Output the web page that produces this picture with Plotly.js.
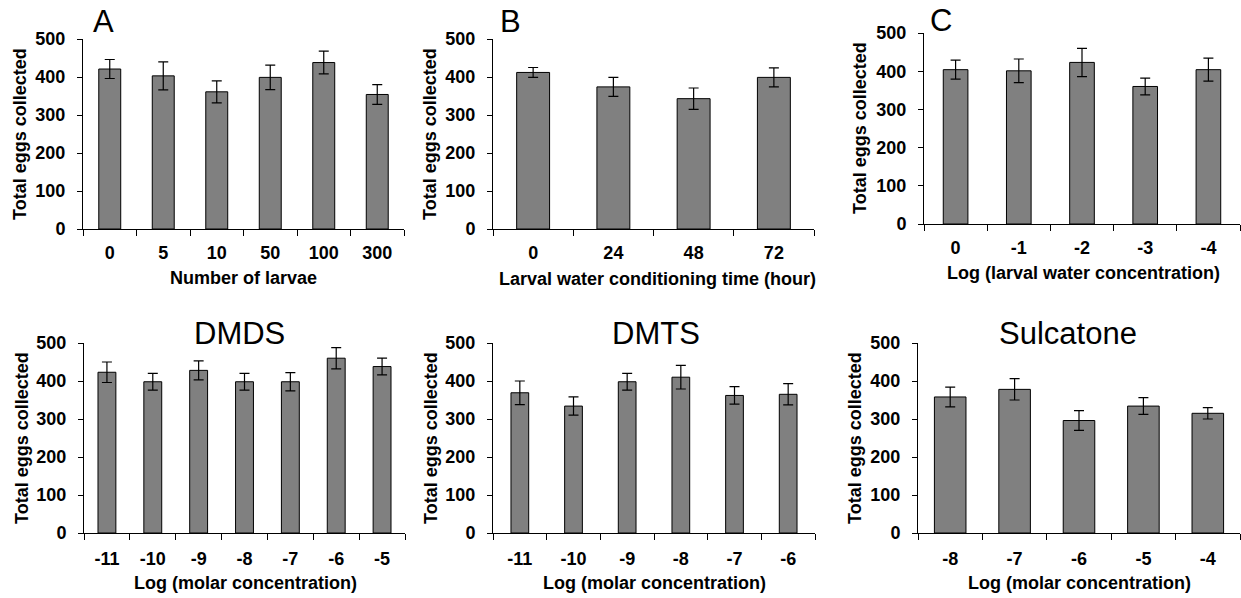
<!DOCTYPE html>
<html>
<head>
<meta charset="utf-8">
<script src="https://cdn.plot.ly/plotly-3.0.1.min.js"></script>
<style>
html,body{margin:0;padding:0;background:#fff;}
#chart{width:1241px;height:598px;}
</style>
</head>
<body>
<div id="chart"></div>
<script>
// ---- Data ----
var catsA = ['0','5','10','50','100','300'];
var valsA = [421,403,361,399,438,354];
var errA  = [25,37,29,32,30,26];

var catsB = ['0','24','48','72'];
var valsB = [412,374,343,399];
var errB  = [13,25,28,25];

var catsC = ['0','-1','-2','-3','-4'];
var valsC = [404,401,423,360,404];
var errC  = [25,31,37,22,30];

var catsDMDS = ['-11','-10','-9','-8','-7','-6','-5'];
var valsDMDS = [423,398,428,398,398,460,438];
var errDMDS  = [27,22,25,22,24,28,22];

var catsDMTS = ['-11','-10','-9','-8','-7','-6'];
var valsDMTS = [369,334,398,410,362,365];
var errDMTS  = [31,24,22,31,23,28];

var catsSulc = ['-8','-7','-6','-5','-4'];
var valsSulc = [358,378,296,334,315];
var errSulc  = [26,28,26,22,15];

var yTickVals = [0,100,200,300,400,500];
var yTitle = 'Total eggs collected';
var panelTitles = ['A','B','C','DMDS','DMTS','Sulcatone'];
var xTitles = ['Number of larvae','Larval water conditioning time (hour)','Log (larval water concentration)',
               'Log (molar concentration)','Log (molar concentration)','Log (molar concentration)'];

// ---- Layout geometry (pixels) ----
var W = 1241, H = 598;
function px(x){return x/W;}
function py(y){return 1 - y/H;}

var panels = [
  {cats:catsA, vals:valsA, err:errA, x0:83,  x1:404,  yt:39,  yb:229, bw:0.41, so:7},
  {cats:catsB, vals:valsB, err:errB, x0:493, x1:814,  yt:39,  yb:229, bw:0.41, so:7},
  {cats:catsC, vals:valsC, err:errC, x0:924, x1:1240, yt:33,  yb:224, bw:0.39, so:7},
  {cats:catsDMDS, vals:valsDMDS, err:errDMDS, x0:84,  x1:405,  yt:343, yb:533, bw:0.39, so:9},
  {cats:catsDMTS, vals:valsDMTS, err:errDMTS, x0:493, x1:815,  yt:343, yb:533, bw:0.33, so:9},
  {cats:catsSulc, vals:valsSulc, err:errSulc, x0:918, x1:1240, yt:343, yb:533, bw:0.49, so:9}
];
var titlePos = [[103,22],[510,22],[941,21],[239,333],[656,333],[1068,333]];
var xTitlePos = [[243,278],[657,279],[1083,273],[245,583],[654,583],[1079,583]];
var yTitlePos = [[20,134],[430,134],[860,128],[22,438],[431,438],[855,438]];

var FONT = '"Liberation Sans", Arial, sans-serif';
var TXT = 18;
var data = [];
var layout = {
  width: W, height: H,
  margin: {l:0, r:0, t:0, b:0},
  paper_bgcolor: '#fff', plot_bgcolor: '#fff',
  showlegend: false,
  font: {family: FONT, color: '#000'},
  annotations: []
};

panels.forEach(function(p, i){
  var n = i + 1;
  var xa = n === 1 ? 'x' : 'x' + n;
  var ya = n === 1 ? 'y' : 'y' + n;
  data.push({
    type: 'bar',
    x: p.cats, y: p.vals,
    xaxis: xa, yaxis: ya,
    width: p.bw,
    marker: {color: '#808080', line: {color: '#000', width: 1}},
    error_y: {type: 'data', array: p.err, visible: true, color: '#000', thickness: 1.2, width: 5},
    hoverinfo: 'x+y'
  });
  layout['xaxis' + (n === 1 ? '' : n)] = {
    domain: [px(p.x0), px(p.x1)],
    anchor: ya,
    type: 'category',
    showline: true, linecolor: '#000', linewidth: 1,
    showgrid: false, zeroline: false,
    ticks: 'outside', tickson: 'boundaries', ticklen: 6, tickcolor: '#000', tickwidth: 1,
    tickfont: {family: FONT, size: TXT, weight: 'bold', color: '#000'},
    ticklabelstandoff: p.so,
    fixedrange: true
  };
  layout['yaxis' + (n === 1 ? '' : n)] = {
    domain: [py(p.yb), py(p.yt)],
    anchor: xa,
    range: [0, 500],
    tickvals: yTickVals,
    showline: true, linecolor: '#000', linewidth: 1,
    showgrid: false, zeroline: false,
    ticks: 'outside', ticklen: 5, tickcolor: '#000', tickwidth: 1,
    tickfont: {family: FONT, size: TXT, weight: 'bold', color: '#000'},
    ticklabelstandoff: 8,
    fixedrange: true
  };
  layout.annotations.push({
    text: panelTitles[i], xref: 'paper', yref: 'paper',
    x: px(titlePos[i][0]), y: py(titlePos[i][1]),
    xanchor: 'center', yanchor: 'middle', showarrow: false,
    font: {family: FONT, size: 31, color: '#000'}
  });
  layout.annotations.push({
    text: xTitles[i], xref: 'paper', yref: 'paper',
    x: px(xTitlePos[i][0]), y: py(xTitlePos[i][1]),
    xanchor: 'center', yanchor: 'middle', showarrow: false,
    font: {family: FONT, size: TXT, weight: 'bold', color: '#000'}
  });
  layout.annotations.push({
    text: yTitle, xref: 'paper', yref: 'paper',
    x: px(yTitlePos[i][0]), y: py(yTitlePos[i][1]),
    xanchor: 'center', yanchor: 'middle', showarrow: false, textangle: -90,
    font: {family: FONT, size: TXT, weight: 'bold', color: '#000'}
  });
});

Plotly.newPlot('chart', data, layout, {staticPlot: true, displayModeBar: false});
</script>
</body>
</html>
